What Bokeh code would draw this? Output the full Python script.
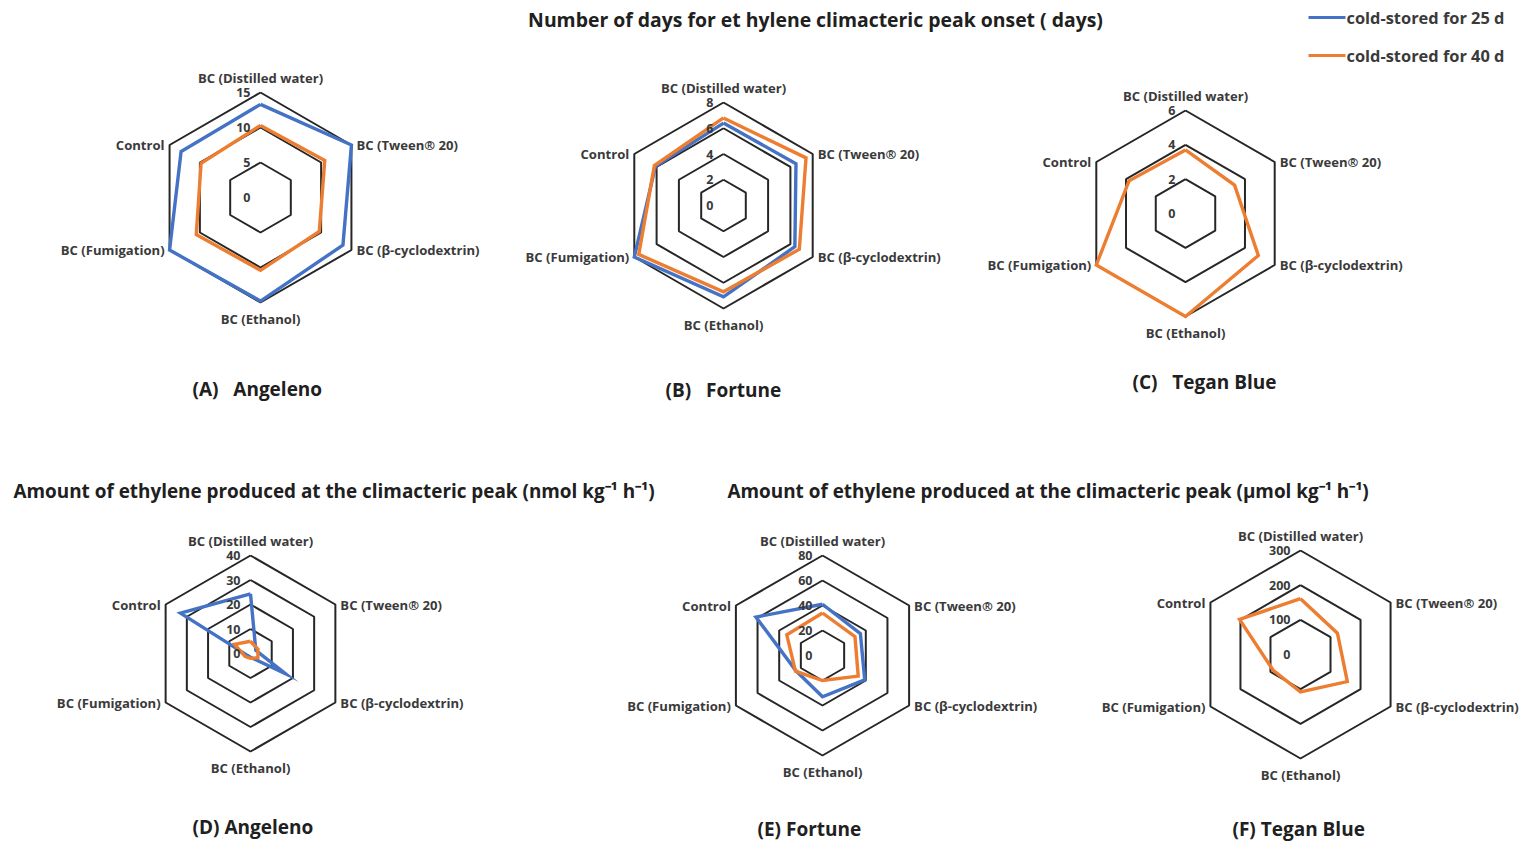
import numpy as np
from bokeh.plotting import figure
from bokeh.models import Range1d
from bokeh.core.properties import value
from bokeh.embed import file_html
from bokeh.resources import INLINE

# ---- data -------------------------------------------------------------
categories = ["BC (Distilled water)", "BC (Tween® 20)", "BC (β-cyclodextrin)",
              "BC (Ethanol)", "BC (Fumigation)", "Control"]
series_names = ["cold-stored for 25 d", "cold-stored for 40 d"]

# Number of days for ethylene climacteric peak onset (days)
angeleno_onset_25 = [13.3, 15.0, 13.6, 14.8, 15.0, 13.1]
angeleno_onset_40 = [10.3, 10.6, 9.7, 10.4, 10.6, 9.8]
fortune_onset_25 = [6.4, 6.5, 6.4, 7.1, 8.0, 6.1]
fortune_onset_40 = [6.8, 7.4, 6.8, 6.7, 7.6, 6.2]
tegan_onset_40 = [3.7, 3.3, 4.9, 6.0, 6.0, 3.8]

# Amount of ethylene produced at the climacteric peak
angeleno_peak_25 = [24.3, 2.5, 16.5, 1.5, 1.5, 33.0]   # nmol kg-1 h-1
angeleno_peak_40 = [5.0, 3.5, 3.5, 2.0, 2.5, 7.5]
fortune_peak_25 = [41.0, 35.0, 39.0, 33.0, 24.5, 61.5]  # µmol kg-1 h-1
fortune_peak_40 = [34.0, 30.0, 33.0, 20.0, 25.0, 33.0]
tegan_peak_40 = [161, 123, 156, 108, 91, 203]

ticks_a = [0, 5, 10, 15]
ticks_b = [0, 2, 4, 6, 8]
ticks_c = [0, 2, 4, 6]
ticks_d = [0, 10, 20, 30, 40]
ticks_e = [0, 20, 40, 60, 80]
ticks_f = [0, 100, 200, 300]

title_top = "Number of days for et hylene climacteric peak onset ( days)"
title_bottom_left = "Amount of ethylene produced at the climacteric peak (nmol kg\u207b\u00b9 h\u207b\u00b9)"
title_bottom_right = "Amount of ethylene produced at the climacteric peak (\u03bcmol kg\u207b\u00b9 h\u207b\u00b9)"

# ---- styling ----------------------------------------------------------
BLUE = "#4472C4"
ORANGE = "#ED7D31"
GRID = "#262626"
TEXT = "#3a3a3a"
FONT = value("Open Sans")

W, H = 1521, 843
p = figure(width=W, height=H, x_range=Range1d(0, W), y_range=Range1d(H, 0),
           output_backend="svg", toolbar_location=None, min_border=0,
           x_axis_location=None, y_axis_location=None)
p.grid.visible = False
p.outline_line_color = None
p.background_fill_color = "white"
p.border_fill_color = "white"

angles = np.deg2rad([90, 30, -30, -90, -150, 150])


def radar_xy(vals, cx, cy, R, vmax):
    r = np.asarray(vals, dtype=float) / vmax * R
    xs = cx + r * np.cos(angles)
    ys = cy - r * np.sin(angles)
    return list(xs) + [xs[0]], list(ys) + [ys[0]]


def radar(cx, cy, R, ticks, series, panel_label, lab_xy):
    vmax = ticks[-1]
    # hexagonal grid rings
    for t in ticks[1:]:
        xs, ys = radar_xy([t] * 6, cx, cy, R, vmax)
        p.line(xs, ys, line_color=GRID, line_width=2)
    # series
    for vals, col in series:
        xs, ys = radar_xy(vals, cx, cy, R, vmax)
        p.line(xs, ys, line_color=col, line_width=3.4, line_join="miter")
    # radial tick labels
    p.text(x=[cx - 10] * len(ticks), y=[cy - t / vmax * R for t in ticks],
           text=[str(t) for t in ticks], text_align="right", text_baseline="middle",
           text_font=FONT, text_font_style="bold", text_font_size="12.5px",
           text_color=TEXT)
    # category labels
    dx = R * 0.866 + 5
    pos = [(cx, cy - R - 15, "center"), (cx + dx, cy - R * 0.5, "left"),
           (cx + dx, cy + R * 0.5, "left"), (cx, cy + R + 16, "center"),
           (cx - dx, cy + R * 0.5, "right"), (cx - dx, cy - R * 0.5, "right")]
    for (x, y, al), name in zip(pos, categories):
        p.text(x=[x], y=[y], text=[name], text_align=al, text_baseline="middle",
               text_font=FONT, text_font_style="bold", text_font_size="13.1px",
               text_color=TEXT)
    p.text(x=[lab_xy[0]], y=[lab_xy[1]], text=[panel_label], text_align="left",
           text_baseline="middle", text_font=FONT, text_font_style="bold",
           text_font_size="19px", text_color="#202020")


radar(260, 197, 105, ticks_a, [(angeleno_onset_25, BLUE), (angeleno_onset_40, ORANGE)],
      "(A)\u00a0\u00a0 Angeleno", (192, 388))
radar(723, 205, 103, ticks_b, [(fortune_onset_25, BLUE), (fortune_onset_40, ORANGE)],
      "(B)\u00a0\u00a0 Fortune", (665, 389))
radar(1185, 213, 103, ticks_c, [(tegan_onset_40, ORANGE)],
      "(C)\u00a0\u00a0 Tegan Blue", (1132, 381))
radar(250, 653, 98, ticks_d, [(angeleno_peak_25, BLUE), (angeleno_peak_40, ORANGE)],
      "(D) Angeleno", (192, 826))
radar(822, 655, 100, ticks_e, [(fortune_peak_25, BLUE), (fortune_peak_40, ORANGE)],
      "(E) Fortune", (757, 828))
radar(1300, 654, 104, ticks_f, [(tegan_peak_40, ORANGE)],
      "(F) Tegan Blue", (1232, 828))

# titles
p.text(x=[815], y=[19], text=[title_top], text_align="center", text_baseline="middle",
       text_font=FONT, text_font_style="bold", text_font_size="19.4px", text_color="#202020")
p.text(x=[13, 727], y=[490, 490], text=[title_bottom_left, title_bottom_right],
       text_align="left", text_baseline="middle", text_font=FONT,
       text_font_style="bold", text_font_size="18.9px", text_color="#202020")

# legend
for yy, col, name in [(17, BLUE, series_names[0]), (55, ORANGE, series_names[1])]:
    p.line([1308, 1345], [yy, yy], line_color=col, line_width=3)
    p.text(x=[1346], y=[yy], text=[name], text_align="left", text_baseline="middle",
           text_font=FONT, text_font_style="bold", text_font_size="16.4px",
           text_color=TEXT)

open("out.html", "w").write(file_html(p, INLINE))
